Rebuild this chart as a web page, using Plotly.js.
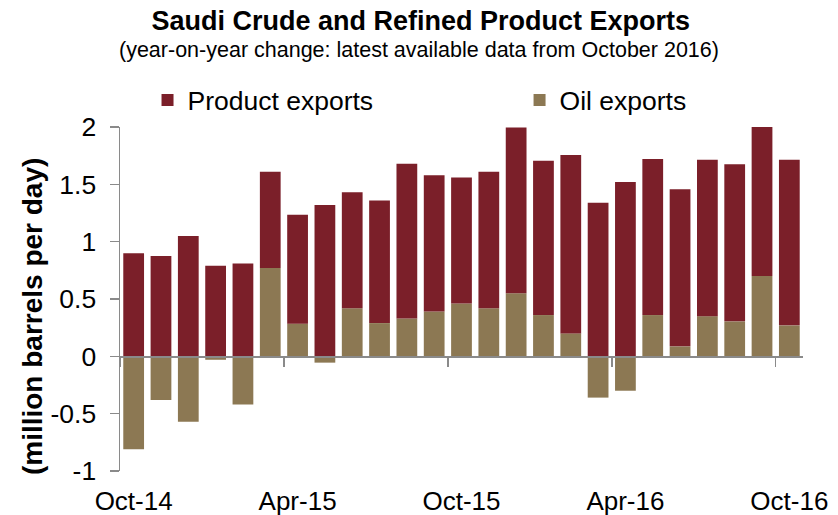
<!DOCTYPE html>
<html>
<head>
<meta charset="utf-8">
<script src="https://cdn.plot.ly/plotly-3.0.1.min.js"></script>
<style>html,body{margin:0;padding:0;background:#fff;}#chart{width:838px;height:515px;}</style>
</head>
<body>
<div id="chart"></div>
<script>
var months = ["Oct-14","Nov-14","Dec-14","Jan-15","Feb-15","Mar-15","Apr-15","May-15","Jun-15","Jul-15","Aug-15","Sep-15","Oct-15","Nov-15","Dec-15","Jan-16","Feb-16","Mar-16","Apr-16","May-16","Jun-16","Jul-16","Aug-16","Sep-16","Oct-16"];
var oilExports = [-0.81,-0.38,-0.57,-0.03,-0.42,0.77,0.285,-0.055,0.42,0.29,0.33,0.39,0.46,0.42,0.55,0.36,0.20,-0.36,-0.30,0.36,0.087,0.35,0.305,0.70,0.27];
var productExports = [0.90,0.875,1.05,0.79,0.81,0.84,0.95,1.32,1.01,1.07,1.35,1.19,1.10,1.19,1.445,1.345,1.555,1.34,1.52,1.36,1.37,1.365,1.37,1.31,1.445];
var xTickLabels = ["Oct-14","Apr-15","Oct-15","Apr-16","Oct-16"];
var xTickIdx = [0,6,12,18,24];
var yTickVals = [2,1.5,1,0.5,0,-0.5,-1];
var yTickText = ["2","1.5","1","0.5","0","-0.5","-1"];

var idx = months.map(function(m,i){return i;});
var boundaries = xTickIdx.map(function(v){return v-0.5;});
var font = "Liberation Sans, Arial, sans-serif";
var gray = "#8a8a8a";

var traces = [
  {type:"bar", name:"Oil exports", x:idx, y:oilExports, marker:{color:"#8c7853"}, cliponaxis:false, hoverinfo:"skip", legend:"legend2", showlegend:true},
  {type:"bar", name:"Product exports", x:idx, y:productExports, marker:{color:"#7b1f29"}, cliponaxis:false, hoverinfo:"skip", legend:"legend", showlegend:true},
  {type:"scatter", x:[], y:[], xaxis:"x2", showlegend:false, hoverinfo:"skip"}
];

var legendFont = {size:26.5, family:font, color:"#000"};
var layout = {
  width:838, height:515,
  showlegend:true,
  paper_bgcolor:"#fff", plot_bgcolor:"#fff",
  margin:{l:120, r:35, t:127, b:44},
  barmode:"relative", bargap:0.24,
  font:{family:font, color:"#000"},
  title:{text:"<b>Saudi Crude and Refined Product Exports</b>", font:{size:27, family:font, color:"#000"}, x:0.502, xref:"container", y:0.96, yref:"container", yanchor:"middle"},
  annotations:[
    {text:"(year-on-year change: latest available data from October 2016)", xref:"paper", yref:"paper", x:0.438, y:1.225, xanchor:"center", yanchor:"middle", showarrow:false, font:{size:21.5, family:font, color:"#000"}},
    {text:"<b>(million barrels per day)</b>", textangle:-90, xref:"paper", yref:"paper", x:-0.129, y:0.45, xanchor:"center", yanchor:"middle", showarrow:false, font:{size:28, family:font, color:"#000"}}
  ],
  legend:{orientation:"h", x:0.0403, y:1.078, xanchor:"left", yanchor:"middle", bgcolor:"rgba(0,0,0,0)", font:legendFont, visible:true},
  legend2:{orientation:"h", x:0.585, y:1.078, xanchor:"left", yanchor:"middle", bgcolor:"rgba(0,0,0,0)", font:legendFont, visible:true},
  xaxis:{range:[-0.5,24.5], tickvals:xTickIdx, ticktext:xTickLabels, ticks:"", showline:false, zeroline:false, showgrid:false, tickfont:{size:26, family:font, color:"#000"}, ticklabelstandoff:12, fixedrange:true},
  xaxis2:{overlaying:"x", anchor:"free", position:1/3, range:[-0.5,24.5], tickvals:boundaries, ticks:"outside", ticklen:9, tickwidth:1.5, tickcolor:gray, showline:true, linecolor:gray, linewidth:1.5, showticklabels:false, showgrid:false, zeroline:false},
  yaxis:{range:[-1,2], tickvals:yTickVals, ticktext:yTickText, ticks:"outside", ticklen:9, tickwidth:1.5, tickcolor:gray, showline:true, linecolor:gray, linewidth:1.5, showgrid:false, zeroline:false, tickfont:{size:26.5, family:font, color:"#000"}, ticklabelstandoff:8}
};

Plotly.newPlot("chart", traces, layout, {displayModeBar:false, staticPlot:true});
</script>
</body>
</html>
